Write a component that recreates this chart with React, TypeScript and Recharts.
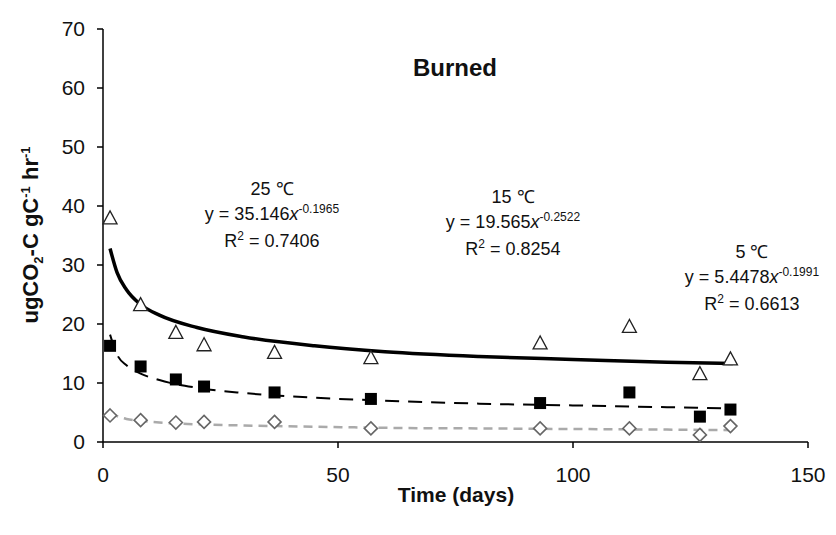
import React from "react"
import { ComposedChart, Line, Scatter, XAxis, YAxis } from "recharts"

const days = [1.5, 8, 15.5, 21.5, 36.5, 57, 93, 112, 127, 133.5]
const rate25 = [37.9, 23.2, 18.5, 16.4, 15.1, 14.2, 16.7, 19.5, 11.5, 14.0]
const rate15 = [16.3, 12.8, 10.6, 9.4, 8.4, 7.3, 6.6, 8.4, 4.3, 5.5]
const rate5 = [4.5, 3.7, 3.3, 3.4, 3.4, 2.3, 2.3, 2.3, 1.2, 2.7]

// power trendlines
const trendDays = [1.5, 3, 5, 8, 12, 20, 30, 45, 60, 80, 100, 120, 134]
const fit25 = [32.8, 28.7, 25.8, 23.3, 21.5, 19.4, 17.8, 16.3, 15.3, 14.5, 14.0, 13.5, 13.3]
const fit15 = [18.2, 14.8, 13.0, 11.6, 10.5, 9.2, 8.3, 7.5, 7.0, 6.5, 6.2, 5.9, 5.7]
const fit5 = [5.0, 4.4, 3.9, 3.6, 3.3, 3.0, 2.8, 2.6, 2.4, 2.3, 2.2, 2.1, 2.0]

const xTicks = [0, 50, 100, 150]
const yTicks = [0, 10, 20, 30, 40, 50, 60, 70]

const FONT = '"Liberation Sans", Arial, sans-serif'

const toPts = (xs: number[], ys: number[]) => xs.map((x, i) => ({ x, y: ys[i] }))

const Triangle = (p: any) => (
    <polygon
        points={`${p.cx},${p.cy - 7.5} ${p.cx - 7},${p.cy + 5.5} ${p.cx + 7},${p.cy + 5.5}`}
        fill="#fff"
        stroke="#222"
        strokeWidth={1.3}
    />
)

const Square = (p: any) => <rect x={p.cx - 6} y={p.cy - 6} width={12} height={12} fill="#000" />

const Diamond = (p: any) => (
    <polygon
        points={`${p.cx},${p.cy - 6.5} ${p.cx + 6.5},${p.cy} ${p.cx},${p.cy + 6.5} ${p.cx - 6.5},${p.cy}`}
        fill="#fff"
        stroke="#666"
        strokeWidth={1.6}
    />
)

function Equation({ x, y, temp, coef, exp, r2 }: any) {
    return (
        <g fontFamily={FONT} fill="#111" fontSize={18} textAnchor="middle">
            <text x={x} y={y}>{temp}</text>
            <text x={x} y={y + 25}>
                {`y = ${coef}`}
                <tspan fontStyle="italic">x</tspan>
                <tspan dy={-7} fontSize={12}>{exp}</tspan>
            </text>
            <text x={x} y={y + 52}>
                R<tspan dy={-7} fontSize={12}>2</tspan>
                <tspan dy={7}> = {r2}</tspan>
            </text>
        </g>
    )
}

export default function App() {
    return (
        <div style={{ position: "absolute", left: 0, top: 0, width: 836, height: 535, background: "#fff" }}>
            <ComposedChart
                width={836}
                height={535}
                margin={{ top: 29, right: 28, bottom: 0, left: 0 }}
            >
                <XAxis
                    dataKey="x"
                    type="number"
                    domain={[0, 150]}
                    ticks={xTicks}
                    height={93}
                    axisLine={{ stroke: "#000", strokeWidth: 1.5 }}
                    tickLine={{ stroke: "#000", strokeWidth: 1.5 }}
                    tickSize={6}
                    tickMargin={19}
                    tick={{ fontSize: 21, fill: "#111", fontFamily: FONT }}
                />
                <YAxis
                    type="number"
                    domain={[0, 70]}
                    ticks={yTicks}
                    width={103}
                    axisLine={{ stroke: "#000", strokeWidth: 1.5 }}
                    tickLine={{ stroke: "#000", strokeWidth: 1.5 }}
                    tickSize={6}
                    tickMargin={12}
                    tick={{ fontSize: 21, fill: "#111", fontFamily: FONT }}
                />
                <Line
                    data={toPts(trendDays, fit5)}
                    dataKey="y"
                    type="monotone"
                    stroke="#aaa"
                    strokeWidth={2.5}
                    strokeDasharray="9 6"
                    dot={false}
                    activeDot={false}
                    isAnimationActive={false}
                />
                <Scatter data={toPts(days, rate5)} dataKey="y" shape={Diamond} isAnimationActive={false} />
                <Line
                    data={toPts(trendDays, fit15)}
                    dataKey="y"
                    type="monotone"
                    stroke="#000"
                    strokeWidth={2}
                    strokeDasharray="14 9"
                    dot={false}
                    activeDot={false}
                    isAnimationActive={false}
                />
                <Scatter data={toPts(days, rate15)} dataKey="y" shape={Square} isAnimationActive={false} />
                <Scatter data={toPts(days, rate25)} dataKey="y" shape={Triangle} isAnimationActive={false} />
                <Line
                    data={toPts(trendDays, fit25)}
                    dataKey="y"
                    type="monotone"
                    stroke="#000"
                    strokeWidth={3.5}
                    dot={false}
                    activeDot={false}
                    isAnimationActive={false}
                />
            </ComposedChart>
            <svg
                width={836}
                height={535}
                style={{ position: "absolute", left: 0, top: 0, pointerEvents: "none" }}
            >
                <text x={455} y={76} textAnchor="middle" fontFamily={FONT} fontSize={24} fontWeight="bold" fill="#111">
                    Burned
                </text>
                <text x={456} y={502} textAnchor="middle" fontFamily={FONT} fontSize={21} fontWeight="bold" fill="#111">
                    Time (days)
                </text>
                <text
                    transform="translate(38,235) rotate(-90)"
                    textAnchor="middle"
                    fontFamily={FONT}
                    fontSize={22}
                    fontWeight="bold"
                    fill="#111"
                >
                    ugCO<tspan dy={5} fontSize={13}>2</tspan>
                    <tspan dy={-5}>-C gC</tspan>
                    <tspan dy={-8} fontSize={13}>-1</tspan>
                    <tspan dy={8}> hr</tspan>
                    <tspan dy={-8} fontSize={13}>-1</tspan>
                </text>
                <Equation x={272} y={195} temp="25 ℃" coef="35.146" exp="-0.1965" r2="0.7406" />
                <Equation x={513} y={203} temp="15 ℃" coef="19.565" exp="-0.2522" r2="0.8254" />
                <Equation x={752} y={258} temp="5 ℃" coef="5.4478" exp="-0.1991" r2="0.6613" />
            </svg>
        </div>
    )
}
